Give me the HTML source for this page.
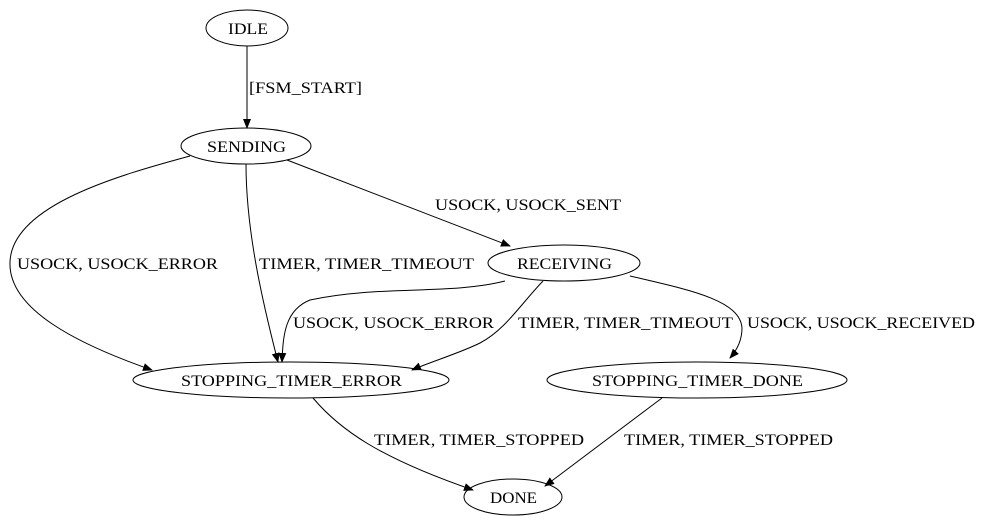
<!DOCTYPE html>
<html><head><meta charset="utf-8"><style>
html,body{margin:0;padding:0;background:#fff;}
svg{display:block}
text{font-family:"Liberation Serif",serif;font-size:16px;fill:#000}
</style></head><body>
<svg width="982" height="528" viewBox="0 0 982 528" xmlns="http://www.w3.org/2000/svg">
<defs><marker id="a" markerWidth="10" markerHeight="8" refX="9" refY="4" orient="auto" markerUnits="userSpaceOnUse"><path d="M0,0 L10,4 L0,8 z" fill="#000"/></marker></defs>
<g fill="none" stroke="#000" stroke-width="1">
<ellipse cx="247" cy="28" rx="41" ry="18"/>
<ellipse cx="246" cy="146" rx="65" ry="18"/>
<ellipse cx="564" cy="263" rx="76" ry="18"/>
<ellipse cx="291" cy="380" rx="158" ry="18"/>
<ellipse cx="697" cy="380" rx="150" ry="18"/>
<ellipse cx="513" cy="497" rx="49" ry="18"/>
<path d="M247,46 L247,128" marker-end="url(#a)"/>
<path d="M190,156 C120,175 12,205 10,262 C8,310 80,345 152,370" marker-end="url(#a)"/>
<path d="M246,164 C246,230 262,300 278,362" marker-end="url(#a)"/>
<path d="M287,160 L510,246" marker-end="url(#a)"/>
<path d="M505,281 C450,295 380,285 310,300 C285,310 283,335 282,362" marker-end="url(#a)"/>
<path d="M543,281 C520,305 505,330 480,343 C460,353 430,362 412,370" marker-end="url(#a)"/>
<path d="M630,276 C690,290 740,300 742,328 C742,340 737,350 730,358" marker-end="url(#a)"/>
<path d="M313,398 C340,430 380,458 473,490" marker-end="url(#a)"/>
<path d="M662,398 L545,486" marker-end="url(#a)"/>
</g>
<g lengthAdjust="spacingAndGlyphs">
<text x="228" y="34" textLength="40" lengthAdjust="spacingAndGlyphs">IDLE</text>
<text x="207" y="152" textLength="79" lengthAdjust="spacingAndGlyphs">SENDING</text>
<text x="517" y="269" textLength="95" lengthAdjust="spacingAndGlyphs">RECEIVING</text>
<text x="181" y="386" textLength="221" lengthAdjust="spacingAndGlyphs">STOPPING_TIMER_ERROR</text>
<text x="592" y="386" textLength="211" lengthAdjust="spacingAndGlyphs">STOPPING_TIMER_DONE</text>
<text x="490" y="503" textLength="47" lengthAdjust="spacingAndGlyphs">DONE</text>
<text x="249" y="93" textLength="113" lengthAdjust="spacingAndGlyphs">[FSM_START]</text>
<text x="17" y="269" textLength="201" lengthAdjust="spacingAndGlyphs">USOCK, USOCK_ERROR</text>
<text x="259" y="269" textLength="215" lengthAdjust="spacingAndGlyphs">TIMER, TIMER_TIMEOUT</text>
<text x="435" y="210" textLength="186" lengthAdjust="spacingAndGlyphs">USOCK, USOCK_SENT</text>
<text x="293" y="328" textLength="201" lengthAdjust="spacingAndGlyphs">USOCK, USOCK_ERROR</text>
<text x="518" y="328" textLength="215" lengthAdjust="spacingAndGlyphs">TIMER, TIMER_TIMEOUT</text>
<text x="747" y="328" textLength="228" lengthAdjust="spacingAndGlyphs">USOCK, USOCK_RECEIVED</text>
<text x="374" y="445" textLength="210" lengthAdjust="spacingAndGlyphs">TIMER, TIMER_STOPPED</text>
<text x="624" y="445" textLength="209" lengthAdjust="spacingAndGlyphs">TIMER, TIMER_STOPPED</text>
</g>
</svg>
</body></html>
